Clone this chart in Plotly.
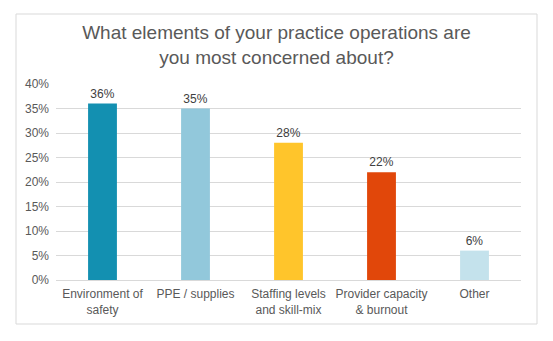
import plotly.graph_objects as go

categories = ["Environment of<br>safety", "PPE / supplies", "Staffing levels<br>and skill-mix",
              "Provider capacity<br>& burnout", "Other"]
values = [36, 35, 28, 22, 6]
colors = ["#1390B1", "#92C8DB", "#FFC52B", "#E1470A", "#C4E2EC"]
tick_vals = [0, 5, 10, 15, 20, 25, 30, 35, 40]
tick_text = [f"{v}%" for v in tick_vals]

fig = go.Figure(go.Bar(
    x=categories, y=values, marker_color=colors, marker_line_width=0,
    text=[f"{v}%" for v in values], textposition="outside",
    textfont=dict(size=12, color="#404040", family="Liberation Sans, Arial"),
    cliponaxis=False,
))

L, R, T, B = 56, 32, 84, 61
W, H = 553, 341
pw, ph = W - L - R, H - T - B

def px_x(p):
    return (p - L) / pw

def px_y(p):
    return (H - B - p) / ph

fig.update_layout(
    width=W, height=H,
    margin=dict(l=L, r=R, t=T, b=B),
    paper_bgcolor="white", plot_bgcolor="white",
    bargap=0.69,
    showlegend=False,
    font=dict(family="Liberation Sans, Arial", color="#595959", size=12),
    title=dict(text="What elements of your practice operations are<br>you most concerned about?",
               x=0.5, xanchor="center", y=(H - 39) / H, yanchor="middle",
               font=dict(size=19, color="#595959", family="Liberation Sans, Arial")),
    xaxis=dict(showgrid=False, showline=True, linecolor="#D9D9D9", linewidth=1,
               ticks="", tickfont=dict(size=12, color="#595959"), ticklabelstandoff=3),
    yaxis=dict(range=[0, 40], tickvals=tick_vals, ticktext=tick_text,
               showgrid=True, gridcolor="#D9D9D9", gridwidth=1, zeroline=False,
               showline=False, ticks="", tickfont=dict(size=12, color="#595959"),
               ticklabelstandoff=6),
    shapes=[dict(type="rect", xref="paper", yref="paper",
                 x0=px_x(16), x1=px_x(537), y0=px_y(324), y1=px_y(14),
                 line=dict(color="#D9D9D9", width=1), fillcolor="rgba(0,0,0,0)", layer="below")],
)

fig.write_html("out.html")
